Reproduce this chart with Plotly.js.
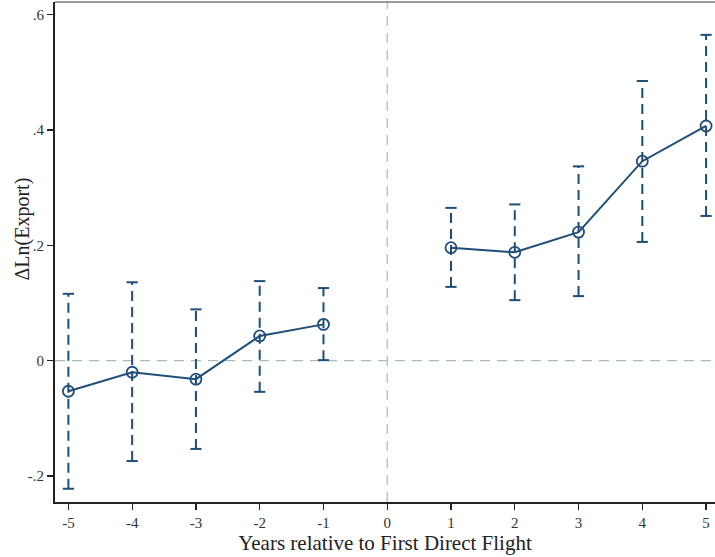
<!DOCTYPE html>
<html>
<head>
<meta charset="utf-8">
<script src="https://cdn.plot.ly/plotly-3.0.1.min.js"></script>
<style>html,body{margin:0;padding:0;background:#fff;}#chart{width:715px;height:557px;}</style>
</head>
<body>
<div id="chart"></div>
<script>
// Data
const years = [-5, -4, -3, -2, -1, 1, 2, 3, 4, 5];
const coef  = [-0.053, -0.020, -0.032, 0.043, 0.063, 0.196, 0.188, 0.223, 0.346, 0.407];
const upper = [0.116, 0.136, 0.089, 0.138, 0.126, 0.265, 0.271, 0.337, 0.485, 0.565];
const lower = [-0.222, -0.174, -0.153, -0.054, 0.001, 0.128, 0.105, 0.112, 0.206, 0.251];
const xTicks = [-5, -4, -3, -2, -1, 0, 1, 2, 3, 4, 5];
const yTicks = [-0.2, 0, 0.2, 0.4, 0.6];
const yTickText = ['-.2', '0', '.2', '.4', '.6'];
const xTitle = 'Years relative to First Direct Flight';
const yTitle = 'ΔLn(Export)';

const navy = '#1f4e79';

// dashed CI lines
const ciX = [], ciY = [];
years.forEach((x, i) => { ciX.push(x, x, null); ciY.push(lower[i], upper[i], null); });

// connecting line with gap at 0
const lineX = [], lineY = [];
years.forEach((x, i) => {
  if (i > 0 && years[i - 1] < 0 && x > 0) { lineX.push(null); lineY.push(null); }
  lineX.push(x); lineY.push(coef[i]);
});

const traces = [
  { x: ciX, y: ciY, mode: 'lines', line: { color: navy, width: 2, dash: '10px,6px' }, hoverinfo: 'skip' },
  { x: years.concat(years), y: upper.concat(lower), mode: 'markers',
    marker: { symbol: 'line-ew', size: 8, line: { color: navy, width: 2 } }, hoverinfo: 'skip' },
  { x: lineX, y: lineY, mode: 'lines', line: { color: navy, width: 2 } },
  { x: years, y: coef, mode: 'markers',
    marker: { symbol: 'circle-open', size: 11, color: navy, line: { color: navy, width: 1.8 } } }
];

const fontSerif = 'Liberation Serif, Times New Roman, serif';

const layout = {
  width: 715, height: 557,
  margin: { l: 55, r: 0, t: 2, b: 55 },
  showlegend: false,
  paper_bgcolor: '#fff', plot_bgcolor: '#fff',
  font: { family: fontSerif, color: '#222', size: 15 },
  xaxis: {
    range: [-5.21, 5.14], tickvals: xTicks, ticktext: xTicks.map(String),
    showgrid: false, zeroline: false, showline: true, linecolor: '#222', linewidth: 2,
    ticks: 'outside', ticklen: 6, tickcolor: '#222', tickwidth: 1.2,
    tickfont: { size: 15, family: fontSerif, color: '#333' },
    title: { text: xTitle, font: { size: 21, family: fontSerif, color: '#222' }, standoff: 0 }
  },
  yaxis: {
    range: [-0.245, 0.622], tickvals: yTicks, ticktext: yTickText,
    showgrid: false, zeroline: false, showline: true, linecolor: '#222', linewidth: 2,
    ticks: 'outside', ticklen: 6, tickcolor: '#222', tickwidth: 1.2,
    tickfont: { size: 15, family: fontSerif, color: '#333' }
  },
  annotations: [
    { text: yTitle, xref: 'paper', yref: 'paper', x: -0.05, y: 0.545, xanchor: 'center', yanchor: 'middle',
      textangle: -90, showarrow: false, font: { size: 20, family: fontSerif, color: '#222' } }
  ],
  shapes: [
    { type: 'line', xref: 'paper', yref: 'y', x0: 0, x1: 1, y0: 0, y1: 0,
      line: { color: '#a9bdb4', width: 1.3, dash: '10px,7px' }, layer: 'below' },
    { type: 'line', xref: 'x', yref: 'paper', x0: 0, x1: 0, y0: 0, y1: 1,
      line: { color: '#b5bdb9', width: 1.3, dash: '10px,7px' }, layer: 'below' },
    { type: 'line', xref: 'paper', yref: 'paper', x0: 0, x1: 1, y0: 1, y1: 1,
      line: { color: '#777', width: 1.5 } }
  ]
};

Plotly.newPlot('chart', traces, layout, { displayModeBar: false, staticPlot: true });
</script>
</body>
</html>
